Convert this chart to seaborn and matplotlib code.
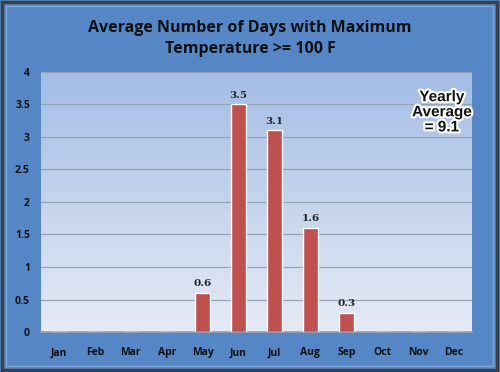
import numpy as np
import pandas as pd
import matplotlib
matplotlib.use("Agg")
import matplotlib.pyplot as plt
import matplotlib.patheffects as pe
from matplotlib.patches import Rectangle
import seaborn as sns

months = ["Jan", "Feb", "Mar", "Apr", "May", "Jun",
          "Jul", "Aug", "Sep", "Oct", "Nov", "Dec"]
days = [0, 0, 0, 0, 0.6, 3.5, 3.1, 1.6, 0.3, 0, 0, 0]
bar_labels = ["", "", "", "", "0.6", "3.5", "3.1", "1.6", "0.3", "", "", ""]
yticks = [0, 0.5, 1, 1.5, 2, 2.5, 3, 3.5, 4]
ytick_labels = ["0", "0.5", "1", "1.5", "2", "2.5", "3", "3.5", "4"]

df = pd.DataFrame({"month": months, "days": days})

sns.set_theme(style="white")
plt.rcParams['font.family'] = ['Open Sans', 'DejaVu Sans']

fig = plt.figure(figsize=(5, 3.72), dpi=100)
fig.patch.set_facecolor("#5587c6")

# outer frame
fig.patches.append(Rectangle((0.004, 0.005), 0.99, 0.99, transform=fig.transFigure,
                             fill=False, edgecolor="#3a3f47", linewidth=2.5))
fig.patches.append(Rectangle((0.012, 0.016), 0.974, 0.968, transform=fig.transFigure,
                             fill=False, edgecolor="#7fa6da", linewidth=1.0))

ax = fig.add_axes([0.082, 0.1075, 0.862, 0.699])

# vertical gradient for plot area
grad = np.linspace(0, 1, 256).reshape(-1, 1)
top = np.array([0.64, 0.74, 0.90])
bot = np.array([0.90, 0.92, 0.96])
img = bot + (top - bot) * grad
ax.imshow(img[:, None, :].repeat(2, axis=1), aspect="auto",
          extent=(-0.5, 11.5, 0, 4), origin="lower", zorder=0)

sns.barplot(data=df, x="month", y="days", color="#c0504d", width=0.42,
            edgecolor="white", linewidth=1.0, saturation=1, ax=ax, zorder=3)

for i, (v, lab) in enumerate(zip(days, bar_labels)):
    if lab:
        ax.text(i, v + 0.07, lab, ha="center", va="bottom", fontsize=7.5,
                family="DejaVu Serif", fontweight="bold", color="#222222", zorder=4)

ax.set_xlim(-0.5, 11.5)
ax.set_ylim(0, 4)
ax.set_yticks(yticks)
ax.set_yticklabels(ytick_labels)
ax.yaxis.grid(True, color="#97a2b3", linewidth=0.9, zorder=1)
ax.set_axisbelow(True)
for s in ["top", "right", "left"]:
    ax.spines[s].set_visible(False)
ax.spines["bottom"].set_color("#97a2b3")
ax.tick_params(axis="both", length=0, labelsize=7.5, colors="#111111")
ax.tick_params(axis="x", pad=11)
ax.tick_params(axis="y", pad=8)
for t in ax.get_xticklabels() + ax.get_yticklabels():
    t.set_fontweight("bold")
ax.set_xlabel("")
ax.set_ylabel("")

fig.text(0.5, 0.897, "Average Number of Days with Maximum\nTemperature >= 100 F",
         ha="center", va="center", fontsize=11.5, fontweight="bold",
         color="#111111", linespacing=1.45)

ax.text(10.66, 3.38, "Yearly\nAverage\n= 9.1", ha="center", va="center",
        fontsize=11, fontweight="bold", family="Liberation Sans", color="#111111",
        linespacing=1.1, zorder=5,
        path_effects=[pe.withStroke(linewidth=3, foreground="white")])

fig.savefig("out.png", dpi=100, facecolor=fig.get_facecolor())
